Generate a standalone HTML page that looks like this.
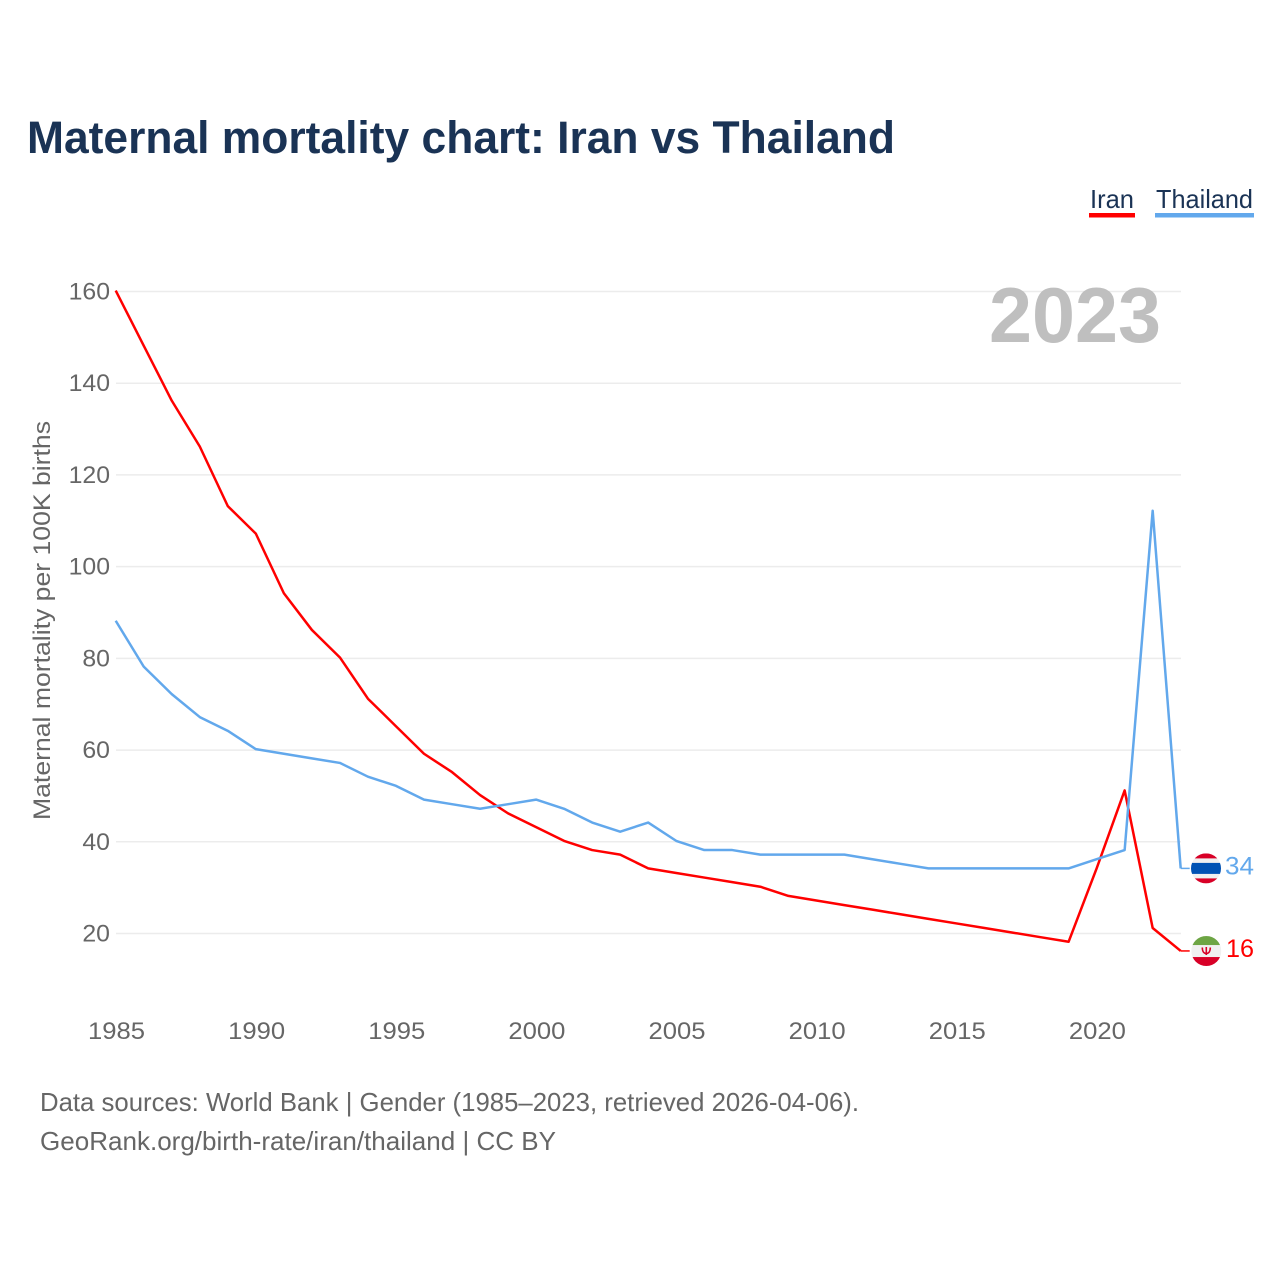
<!DOCTYPE html>
<html lang="en">
<head>
<meta charset="utf-8">
<title>Maternal mortality chart: Iran vs Thailand</title>
<style>
html,body{margin:0;padding:0;background:#fff;}
svg{display:block;font-family:"Liberation Sans",sans-serif;}
</style>
</head>
<body>
<svg id="chart" xmlns="http://www.w3.org/2000/svg" width="1280" height="1280" viewBox="0 0 1280 1280">
  <defs>
    <clipPath id="clip-thailand"><circle id="clip-thailand-circle" r="15"></circle></clipPath>
    <clipPath id="clip-iran"><circle id="clip-iran-circle" r="15"></circle></clipPath>
  </defs>
  <rect width="1280" height="1280" fill="#fff"></rect>
  <text x="27" y="153" font-size="45" font-weight="700" fill="#1a3355" textLength="868" lengthAdjust="spacingAndGlyphs">Maternal mortality chart: Iran vs Thailand</text>

  <g>
    <g>
      <text x="1090" y="208" font-size="26" fill="#1a3355" textLength="44" lengthAdjust="spacingAndGlyphs">Iran</text>
      <rect x="1089" y="213" width="46" height="4.5" fill="#ff0000"></rect>
    </g>
    <g>
      <text x="1156" y="208" font-size="26" fill="#1a3355" textLength="97" lengthAdjust="spacingAndGlyphs">Thailand</text>
      <rect x="1155" y="213" width="99" height="4.5" fill="#62a8ec"></rect>
    </g>
  </g>

  <g id="grid"></g>
  <g id="y-ticks"></g>
  <g id="x-ticks"></g>

  <text transform="translate(50,620.5) rotate(-90)" text-anchor="middle" font-size="24" fill="#666" textLength="399" lengthAdjust="spacingAndGlyphs">Maternal mortality per 100K births</text>

  <text id="year-label" x="989" y="342" font-size="78" font-weight="700" fill="#bfbfbf" textLength="172" lengthAdjust="spacingAndGlyphs">2023</text>

  <g id="series" transform="translate(-0.3,-0.9)"></g>

  <g id="flag-thailand">
    <g clip-path="url(#clip-thailand)">
      <rect x="-15" y="-15" width="30" height="30" fill="#f0f0f0"></rect>
      <rect x="-15" y="-15" width="30" height="5" fill="#d80027"></rect>
      <rect x="-15" y="-5.5" width="30" height="11" fill="#0052b4"></rect>
      <rect x="-15" y="10" width="30" height="5" fill="#d80027"></rect>
    </g>
  </g>
  <g id="flag-iran">
    <g clip-path="url(#clip-iran)">
      <rect x="-15" y="-15" width="30" height="30" fill="#f0f0f0"></rect>
      <rect x="-15" y="-15" width="30" height="9" fill="#6da544"></rect>
      <rect x="-15" y="6" width="30" height="9" fill="#d80027"></rect>
      <path d="M-4 -3.5 C-4 1.5 -1.5 2.5 0 2.5 C1.5 2.5 4 1.5 4 -3.5 M0 -4 V4" fill="none" stroke="#d80027" stroke-width="1.6"></path>
    </g>
  </g>

  <text id="value-thailand" x="1225" font-size="25" fill="#62a8ec" textLength="29" lengthAdjust="spacingAndGlyphs"></text>
  <text id="value-iran" x="1226" font-size="25" fill="#ff0000" textLength="28" lengthAdjust="spacingAndGlyphs"></text>

  <text x="40" y="1111" font-size="26" fill="#666" textLength="819" lengthAdjust="spacingAndGlyphs">Data sources: World Bank | Gender (1985–2023, retrieved 2026-04-06).</text>
  <text x="40" y="1150" font-size="26" fill="#666" textLength="516" lengthAdjust="spacingAndGlyphs">GeoRank.org/birth-rate/iran/thailand | CC BY</text>
</svg>

<script>
const years = [1985,1986,1987,1988,1989,1990,1991,1992,1993,1994,1995,1996,1997,1998,1999,2000,2001,2002,2003,2004,2005,2006,2007,2008,2009,2010,2011,2012,2013,2014,2015,2016,2017,2018,2019,2020,2021,2022,2023];
const iranValues = [160,148,136,126,113,107,94,86,80,71,65,59,55,50,46,43,40,38,37,34,33,32,31,30,28,27,26,25,24,23,22,21,20,19,18,34,51,21,16];
const thailandValues = [88,78,72,67,64,60,59,58,57,54,52,49,48,47,48,49,47,44,42,44,40,38,38,37,37,37,37,36,35,34,34,34,34,34,34,36,38,112,34];
const yTickValues = [20,40,60,80,100,120,140,160];
const xTickValues = [1985,1990,1995,2000,2005,2010,2015,2020];

const NS = 'http://www.w3.org/2000/svg';
function xScale(year) { return 116 + (year - 1985) * (1181 - 116) / (2023 - 1985); }
function yScale(value) { return 933.5 - (value - 20) * (933.5 - 291.5) / (160 - 20); }
function make(tag, attrs) {
  const el = document.createElementNS(NS, tag);
  for (const k in attrs) el.setAttribute(k, attrs[k]);
  return el;
}

const grid = document.getElementById('grid');
const yTicks = document.getElementById('y-ticks');
yTickValues.forEach(function (v) {
  const line = make('line', { x1: 116, x2: 1181, y1: yScale(v), y2: yScale(v), stroke: '#ececec', 'stroke-width': 1.5 });
  
  
  grid.appendChild(line);
  const label = make('text', { x: 110, y: yScale(v) + 8, 'text-anchor': 'end', 'font-size': 24, fill: '#666', textLength: String(v).length * 13.8, lengthAdjust: 'spacingAndGlyphs' });
  
  
  label.textContent = v;
  yTicks.appendChild(label);
});

const xTicks = document.getElementById('x-ticks');
xTickValues.forEach(function (year) {
  const label = make('text', { x: xScale(year) + 0.5, y: 1039, 'text-anchor': 'middle', 'font-size': 24, fill: '#666', textLength: 57, lengthAdjust: 'spacingAndGlyphs' });
  
  
  label.textContent = year;
  xTicks.appendChild(label);
});

function linePoints(values) {
  return values.map(function (v, i) { return xScale(years[i]).toFixed(2) + ',' + yScale(v).toFixed(2); }).join(' ');
}
const series = document.getElementById('series');

const iranLine = make('polyline', { points: linePoints(iranValues), fill: 'none', stroke: '#ff0000', 'stroke-width': 2.5, 'stroke-linejoin': 'round' });


series.appendChild(iranLine);

const thailandLine = make('polyline', { points: linePoints(thailandValues), fill: 'none', stroke: '#62a8ec', 'stroke-width': 2.5, 'stroke-linejoin': 'round' });


series.appendChild(thailandLine);

const lastIndex = years.length - 1;
const lastX = xScale(years[lastIndex]);
const iranY = yScale(iranValues[lastIndex]);
const thailandY = yScale(thailandValues[lastIndex]);

const iranLeader = make('line', { x1: lastX, x2: lastX + 9, y1: iranY, y2: iranY, stroke: '#ff0000', 'stroke-width': 1.5 });


series.appendChild(iranLeader);

const thailandLeader = make('line', { x1: lastX, x2: lastX + 9, y1: thailandY, y2: thailandY, stroke: '#62a8ec', 'stroke-width': 1.5 });


series.appendChild(thailandLeader);

document.getElementById('flag-thailand').setAttribute('transform', 'translate(1206,' + (thailandY - 0.9) + ')');
document.getElementById('flag-iran').setAttribute('transform', 'translate(1206.3,' + (iranY - 0.8) + ')');
document.getElementById('clip-thailand-circle').setAttribute('r', 15);
document.getElementById('clip-iran-circle').setAttribute('r', 15);

const thailandValueLabel = document.getElementById('value-thailand');
thailandValueLabel.setAttribute('y', thailandY + 5);
thailandValueLabel.textContent = thailandValues[lastIndex];
const iranValueLabel = document.getElementById('value-iran');
iranValueLabel.setAttribute('y', iranY + 5);
iranValueLabel.textContent = iranValues[lastIndex];
</script>
</body>
</html>
